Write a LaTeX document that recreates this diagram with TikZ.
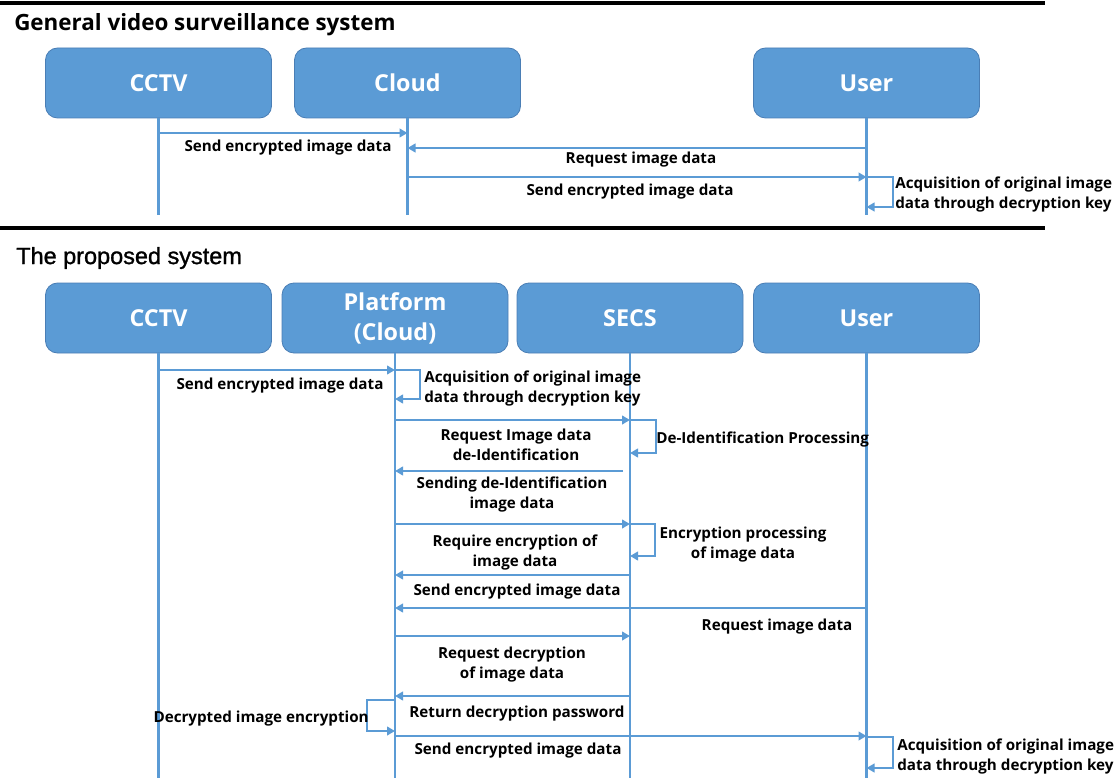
\documentclass[tikz,border=0pt]{standalone}
\usepackage{fontspec}
\setmainfont{Open Sans}
\newfontfamily\headfont[FakeBold=1.2]{Liberation Sans}
\usetikzlibrary{arrows.meta}
\definecolor{boxblue}{HTML}{5B9BD5}
\definecolor{boxedge}{HTML}{4A7EB5}

\begin{document}
\begin{tikzpicture}[x=0.75pt,y=-0.75pt,
  actor/.style={draw=boxedge, line width=0.6pt, fill=boxblue, rounded corners=9pt,
    minimum width=169.5pt, minimum height=52.5pt, inner sep=0pt, text=white,
    align=center, font=\bfseries\fontsize{17.5}{22.5}\selectfont},
  life/.style={draw=boxblue, line width=2.2pt},
  msg/.style={draw=boxblue, line width=2.2pt, -{Triangle[length=6pt,width=6.5pt]}},
  lbl/.style={inner sep=0pt, align=center, font=\bfseries\fontsize{11.4}{15}\selectfont},
  sep/.style={draw=black, line width=3pt},
  title/.style={inner sep=0pt, anchor=west}]
\useasboundingbox (0,0) rectangle (1120,784);

% separators
\draw[sep] (0,3) -- (1045,3);
\draw[sep] (0,228) -- (1045,228);

% ---------- general system ----------
\node[title, font=\bfseries\fontsize{16.8}{18}\selectfont] (gtitle) at (14,25) {General video surveillance system};

\node[actor] (gCCTV)  at (158.5,83) {CCTV};
\node[actor] (gCloud) at (407.5,83) {Cloud};
\node[actor] (gUser)  at (866.5,83) {User};

\coordinate (gCCTVend)  at (gCCTV |- 0,215);
\coordinate (gCloudend) at (gCloud |- 0,215);
\coordinate (gUserend)  at (gUser |- 0,215);
\draw[life] (gCCTV.south) -- (gCCTVend);
\draw[life] (gCloud.south) -- (gCloudend);
\draw[life] (gUser.south) -- (gUserend);

\draw[msg] (gCCTV |- 0,133) -- (gCloud |- 0,133);
\draw[msg] (gUser |- 0,148) -- (gCloud |- 0,148);
\draw[msg] (gCloud |- 0,177) -- (gUser |- 0,177);
\draw[msg] (gUser |- 0,177) -| (893,207) -- (gUser |- 0,207);

\node[lbl] (g1) at (288,148) {Send encrypted image data};
\node[lbl] (g2) at (641,160) {Request image data};
\node[lbl] (g3) at (630,192) {Send encrypted image data};
\node[lbl, anchor=west, align=left] (g4) at (895,195) {Acquisition of original image\\data through decryption key};

% ---------- proposed system ----------
\node[title, font=\headfont\fontsize{17.6}{19}\selectfont] (ptitle) at (16,258) {The proposed system};

\node[actor] (pCCTV) at (158.5,318) {CCTV};
\node[actor] (pPlat) at (395,318)   {Platform\\(Cloud)};
\node[actor] (pSECS) at (630,318)   {SECS};
\node[actor] (pUser) at (866.5,318) {User};

\coordinate (pCCTVend) at (pCCTV |- 0,778);
\coordinate (pPlatend) at (pPlat |- 0,778);
\coordinate (pSECSend) at (pSECS |- 0,778);
\coordinate (pUserend) at (pUser |- 0,778);
\draw[life] (pCCTV.south) -- (pCCTVend);
\draw[life] (pPlat.south) -- (pPlatend);
\draw[life] (pSECS.south) -- (pSECSend);
\draw[life] (pUser.south) -- (pUserend);

% messages
\draw[msg] (pCCTV |- 0,370) -- (pPlat |- 0,370);
\draw[msg] (pPlat |- 0,370) -| (420,399) -- (pPlat |- 0,399);
\draw[msg] (pPlat |- 0,420) -- (pSECS |- 0,420);
\draw[msg] (pSECS |- 0,420) -| (656,453) -- (pSECS |- 0,453);
\draw[msg] ([xshift=-5.25pt]pSECS |- 0,471) -- (pPlat |- 0,471);
\draw[msg] (pPlat |- 0,524) -- (pSECS |- 0,524);
\draw[msg] (pSECS |- 0,524) -| (655,556) -- (pSECS |- 0,556);
\draw[msg] (pSECS |- 0,575) -- (pPlat |- 0,575);
\draw[msg] (pUser |- 0,608) -- (pPlat |- 0,608);
\draw[msg] (pPlat |- 0,636) -- (pSECS |- 0,636);
\draw[msg] (pSECS |- 0,696) -- (pPlat |- 0,696);
\draw[msg] (pPlat |- 0,700) -| (367,731) -- (pPlat |- 0,731);
\draw[msg] (pPlat |- 0,736) -- (pUser |- 0,736);
\draw[msg] (pUser |- 0,737) -| (893,768) -- (pUser |- 0,768);

% labels
\node[lbl] (p1) at (280,386) {Send encrypted image data};
\node[lbl, anchor=west, align=left] (p2) at (424,389) {Acquisition of original image\\data through decryption key};
\node[lbl] (p3) at (516,445) {Request Image data\\de-Identification};
\node[lbl, anchor=west] (p4) at (656,440) {De-Identification Processing};
\node[lbl] (p5) at (512,495) {Sending de-Identification\\image data};
\node[lbl] (p6) at (515,553) {Require encryption of\\image data};
\node[lbl] (p7) at (743,545) {Encryption processing\\of image data};
\node[lbl] (p8) at (517,592) {Send encrypted image data};
\node[lbl] (p9) at (777,627) {Request image data};
\node[lbl] (p10) at (512,665) {Request decryption\\of image data};
\node[lbl] (p11) at (517,714) {Return decryption password};
\node[lbl, anchor=east] (p12) at (369,719) {Decrypted image encryption};
\node[lbl] (p13) at (518,751) {Send encrypted image data};
\node[lbl, anchor=west, align=left] (p14) at (897,757) {Acquisition of original image\\data through decryption key};
\end{tikzpicture}
\end{document}
